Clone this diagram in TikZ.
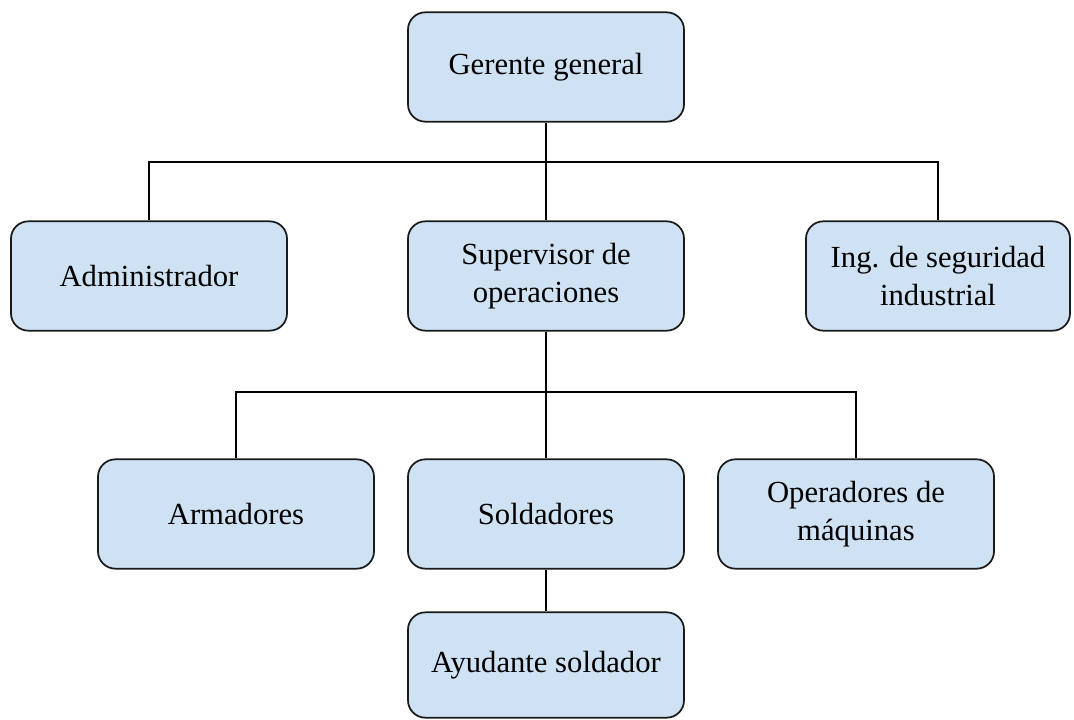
\documentclass[tikz,border=0pt]{standalone}
\usepackage{fontspec}
\setmainfont{Liberation Serif}
\definecolor{boxblue}{HTML}{CFE2F3}
\definecolor{boxline}{HTML}{1A1A1A}
\usetikzlibrary{positioning}

\begin{document}
\begin{tikzpicture}[
  x=0.75pt, y=-0.75pt,
  every node/.style={font=\fontsize{23}{28}\selectfont},
  orgbox/.style={draw=boxline,fill=boxblue,rounded corners=13pt,line width=1.3pt,
                 minimum width=207pt,minimum height=82pt,align=center,inner sep=4pt},
  link/.style={draw=black,line width=1pt},
]
  \useasboundingbox (0,0) rectangle (1074,720);
  % Level 1
  \node[orgbox] (gg) at (546, 67) {Gerente general};
  % Level 2
  \node[orgbox] (adm) at (149, 276) {Administrador};
  \node[orgbox] (sup) at (546, 276) {Supervisor de\\operaciones};
  \node[orgbox,minimum width=198pt] (ing) at (938, 276) {Ing. de seguridad\\industrial};
  % Level 3
  \node[orgbox] (arm) at (236, 514) {Armadores};
  \node[orgbox] (sol) at (546, 514) {Soldadores};
  \node[orgbox] (ope) at (856, 514) {Operadores de\\máquinas};
  % Level 4
  \node[orgbox,minimum height=79pt] (ayu) at (546, 665) {Ayudante soldador};

  % bars
  \coordinate (bar1) at (546, 162);
  \coordinate (bar2) at (546, 392);
  \draw[link] (gg) -- (sup);
  \draw[link] (adm.north) |- (bar1) -| (ing.north);
  \draw[link] (sup) -- (sol);
  \draw[link] (arm.north) |- (bar2) -| (ope.north);
  \draw[link] (sol) -- (ayu);
\end{tikzpicture}
\end{document}
